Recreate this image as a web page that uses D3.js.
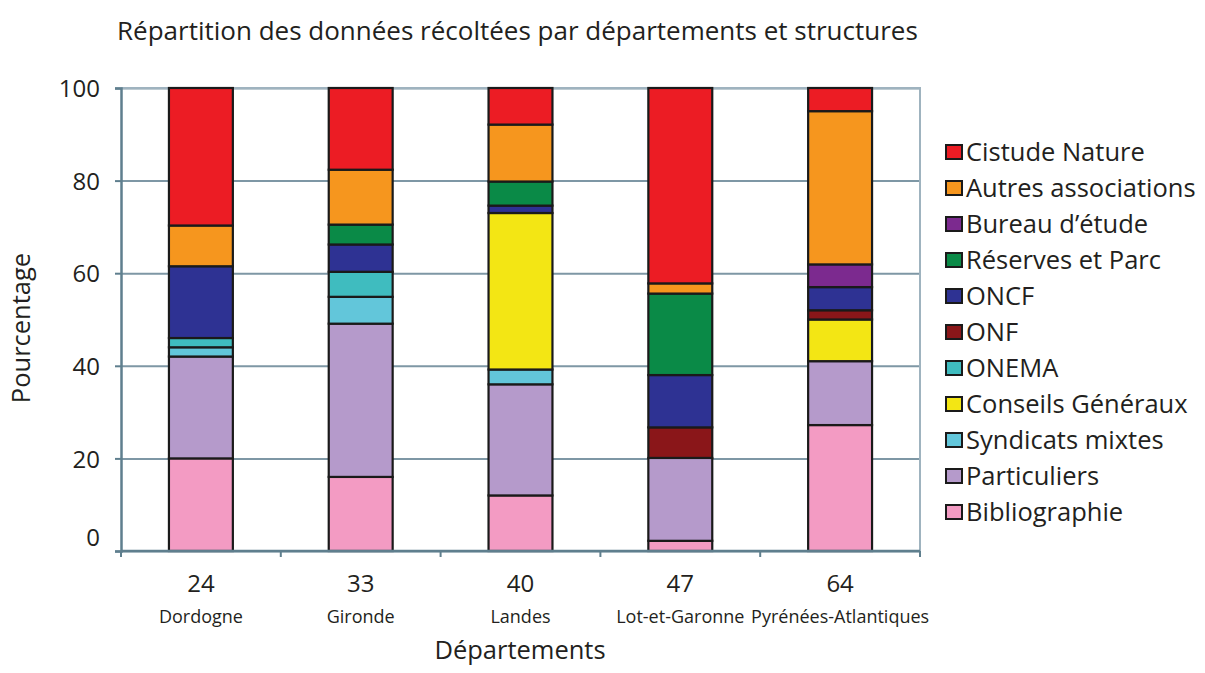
<!DOCTYPE html>
<html>
<head>
<meta charset="utf-8">
<script src="https://cdn.jsdelivr.net/npm/d3@7"></script>
<style>
  html, body { margin: 0; padding: 0; background: #ffffff; }
  svg { display: block; }
  svg text { font-family: "Open Sans", "Noto Sans", sans-serif; }
</style>
</head>
<body>
<svg id="chart" width="1205" height="673"></svg>
<script>
// Départements (codes and names)
const categories = ["24", "33", "40", "47", "64"];
const deptNames = ["Dordogne", "Gironde", "Landes", "Lot-et-Garonne", "Pyrénées-Atlantiques"];

// Structures, stacked from bottom to top
const structures = [
  "Bibliographie", "Particuliers", "Syndicats mixtes", "Conseils Généraux", "ONEMA",
  "ONF", "ONCF", "Réserves et Parc", "Bureau d’étude", "Autres associations", "Cistude Nature"
];

// Share (%) of collected data per structure, one value per département
const bibliographie  = [20.0, 16.0, 12.0,  2.2, 27.2];
const particuliers   = [22.0, 33.1, 24.0, 17.9, 13.8];
const syndicats      = [ 2.0,  5.8,  3.2,  0.0,  0.0];
const conseils       = [ 0.0,  0.0, 33.8,  0.0,  9.0];
const onema          = [ 2.0,  5.4,  0.0,  0.0,  0.0];
const onf            = [ 0.0,  0.0,  0.0,  6.6,  2.0];
const oncf           = [15.5,  5.9,  1.6, 11.3,  5.0];
const reserves       = [ 0.0,  4.3,  5.2, 17.6,  0.0];
const bureau         = [ 0.0,  0.0,  0.0,  0.0,  4.9];
const autres         = [ 8.8, 11.85, 12.3, 2.2, 33.1];
const cistude        = [29.7, 17.65, 7.9, 42.2,  5.0];

const seriesValues = [bibliographie, particuliers, syndicats, conseils, onema,
                      onf, oncf, reserves, bureau, autres, cistude];

const yTicks = [0, 20, 40, 60, 80, 100];

const colors = {
  "Bibliographie": "#f39bc3",
  "Particuliers": "#b59acb",
  "Syndicats mixtes": "#62c6da",
  "Conseils Généraux": "#f3e614",
  "ONEMA": "#3fbcbf",
  "ONF": "#8a1619",
  "ONCF": "#2e3293",
  "Réserves et Parc": "#0a8a47",
  "Bureau d’étude": "#7c2a8f",
  "Autres associations": "#f6961e",
  "Cistude Nature": "#ec1c24"
};

// Table for d3.stack
const table = categories.map((c, i) => {
  const row = { code: c };
  structures.forEach((s, k) => { row[s] = seriesValues[k][i]; });
  return row;
});

const svg = d3.select("#chart");
const margin = { left: 121, right: 285, top: 88, bottom: 122 };
const W = 1205, H = 673;
const FONT = '"Open Sans", "Noto Sans", sans-serif';

const x = d3.scaleBand()
  .domain(categories)
  .range([margin.left, W - margin.right])
  .paddingInner(0.6)
  .paddingOuter(0.3);

const y = d3.scaleLinear()
  .domain([0, 100])
  .range([H - margin.bottom, margin.top]);

const gridColor = "#7e97a5";
const axisColor = "#5f7f8e";
const textColor = "#231f20";

// Horizontal gridlines
svg.append("g")
  .attr("transform", `translate(${margin.left},0)`)
  .call(d3.axisLeft(y).tickValues(yTicks).tickSize(-(W - margin.right - margin.left)).tickFormat(""))
  .call(g => g.select(".domain").remove())
  .call(g => g.selectAll(".tick line").attr("stroke", gridColor).attr("stroke-width", 2));

// Plot frame (top and right)
svg.append("path")
  .attr("d", `M${margin.left},${y(100)}H${W - margin.right}V${y(0)}`)
  .attr("fill", "none")
  .attr("stroke", "#9fb3bf")
  .attr("stroke-width", 2);

// Stacked bars
const stack = d3.stack().keys(structures);
const layers = stack(table);

svg.append("g")
  .selectAll("g")
  .data(layers)
  .join("g")
  .attr("fill", d => colors[d.key])
  .selectAll("rect")
  .data(d => d.filter(p => p[1] - p[0] > 0))
  .join("rect")
  .attr("x", d => x(d.data.code))
  .attr("width", x.bandwidth())
  .attr("y", d => y(d[1]))
  .attr("height", d => y(d[0]) - y(d[1]))
  .attr("stroke", "#1a1a1a")
  .attr("stroke-width", 2.2);

// Y axis
svg.append("g")
  .attr("transform", `translate(${margin.left},0)`)
  .attr("font-family", FONT)
  .call(d3.axisLeft(y).tickValues(yTicks).tickSize(6).tickPadding(15))
  .call(g => g.select(".domain").attr("stroke", axisColor).attr("stroke-width", 2.5))
  .call(g => g.selectAll(".tick line").attr("stroke", axisColor).attr("stroke-width", 2))
  .call(g => g.selectAll(".tick text")
    .attr("fill", textColor)
    .style("font-size", "24px")
    .attr("dy", d => d === 0 ? "-0.25em" : "0.36em"));

// X axis baseline with ticks at band boundaries
const step = x.step();
const bounds = categories.map(c => x(c) - (step - x.bandwidth()) / 2).concat([W - margin.right]);
svg.append("line")
  .attr("x1", margin.left).attr("x2", W - margin.right)
  .attr("y1", y(0)).attr("y2", y(0))
  .attr("stroke", axisColor).attr("stroke-width", 2.5);
svg.append("g")
  .selectAll("line")
  .data(bounds)
  .join("line")
  .attr("x1", d => d).attr("x2", d => d)
  .attr("y1", y(0)).attr("y2", y(0) + 6)
  .attr("stroke", axisColor).attr("stroke-width", 2);

// X tick labels: code and name
const xAxis = svg.append("g")
  .attr("transform", `translate(0,${y(0)})`)
  .attr("font-family", FONT)
  .call(d3.axisBottom(x).tickSize(0).tickPadding(24))
  .call(g => g.select(".domain").remove())
  .call(g => g.selectAll(".tick text").attr("fill", textColor).style("font-size", "24px"));

xAxis.selectAll(".tick")
  .append("text")
  .attr("y", 72)
  .attr("fill", textColor)
  .style("font-size", "18px")
  .text((d, i) => deptNames[i]);

// Titles
svg.append("text")
  .attr("x", 117).attr("y", 40)
  .attr("fill", textColor)
  .style("font-size", "26px")
  .text("Répartition des données récoltées par départements et structures");

svg.append("text")
  .attr("x", 520).attr("y", 659)
  .attr("text-anchor", "middle")
  .attr("fill", textColor)
  .style("font-size", "25.5px")
  .text("Départements");

svg.append("text")
  .attr("transform", "translate(30,328) rotate(-90)")
  .attr("text-anchor", "middle")
  .attr("fill", textColor)
  .style("font-size", "25.5px")
  .text("Pourcentage");

// Legend (top to bottom: last stacked first)
const legendItems = structures.slice().reverse();
const legend = svg.append("g")
  .selectAll("g")
  .data(legendItems)
  .join("g")
  .attr("transform", (d, i) => `translate(946,${152 + i * 36})`);

legend.append("rect")
  .attr("x", 0).attr("y", -7)
  .attr("width", 16).attr("height", 14)
  .attr("fill", d => colors[d])
  .attr("stroke", "#1a1a1a")
  .attr("stroke-width", 2);

legend.append("text")
  .attr("x", 20).attr("y", 0)
  .attr("dy", "0.36em")
  .attr("fill", textColor)
  .style("font-size", "25.5px")
  .text(d => d);
</script>
</body>
</html>
